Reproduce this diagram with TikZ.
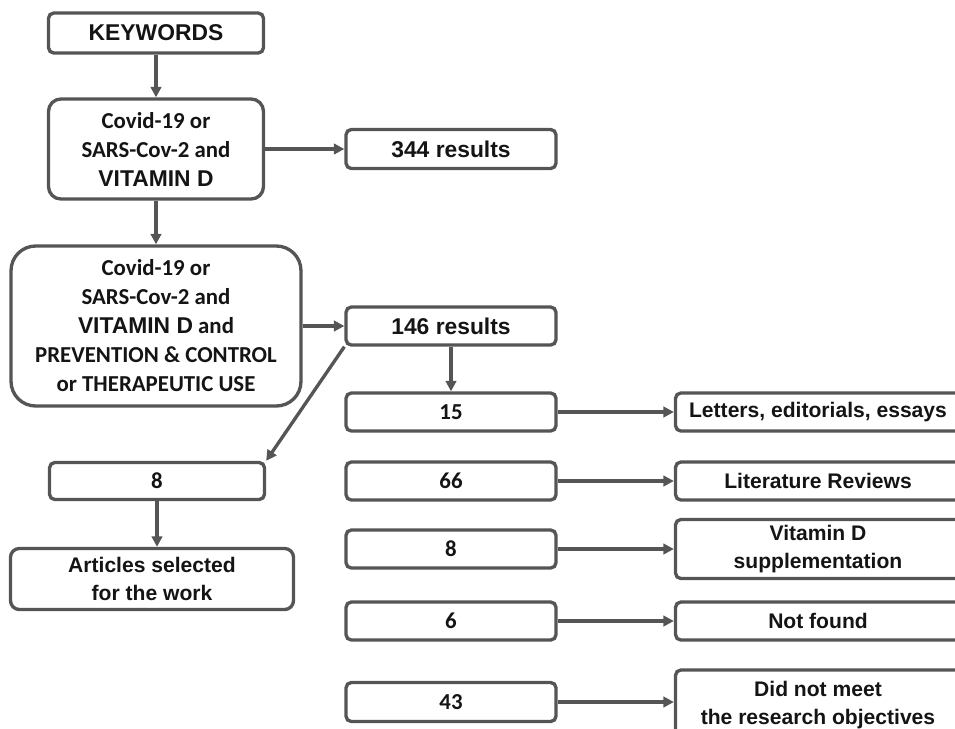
\documentclass[tikz,border=0pt]{standalone}
\usepackage{fontspec}
\setmainfont{Liberation Sans}
\newfontfamily\calibri{Carlito}
\usetikzlibrary{arrows.meta}
\definecolor{linegray}{RGB}{85,85,85}
\definecolor{textblack}{RGB}{20,20,20}

\begin{document}
\begin{tikzpicture}[x=0.02cm,y=-0.02cm,
    box/.style={rectangle,draw=linegray,line width=1.9pt,rounded corners=3pt,align=center,
      text=textblack,inner sep=0pt,font=\bfseries\fontsize{12}{16}\selectfont},
    bigbox/.style={box,font=\bfseries\fontsize{13}{16}\selectfont},
    calbox/.style={box,font=\calibri\bfseries\fontsize{13}{16.5}\selectfont},
    arr/.style={draw=linegray,line width=1.9pt,-{Triangle[length=6pt,width=6pt]}}]
  \useasboundingbox (0,0) rectangle (955,728);
  \clip (0,0) rectangle (955,728);
  % search column
  \node[bigbox,minimum width=4.3cm,minimum height=0.8cm] (K) at (156,33) {KEYWORDS};
  \node[calbox,rounded corners=7pt,minimum width=4.3cm,minimum height=2.0cm] (Q1) at (156,149)
    {Covid-19 or\\SARS-Cov-2 and\\{\normalfont\bfseries\fontsize{13}{16}\selectfont VITAMIN D}};
  \node[calbox,rounded corners=14pt,minimum width=5.8cm,minimum height=3.2cm] (Q2) at (156,326)
    {Covid-19 or\\SARS-Cov-2 and\\{\normalfont\bfseries\fontsize{13}{16}\selectfont VITAMIN D} and\\PREVENTION \& CONTROL\\or THERAPEUTIC USE};
  \node[bigbox,minimum width=4.2cm,minimum height=0.78cm] (R1) at (451,149) {344 results};
  \node[bigbox,minimum width=4.2cm,minimum height=0.76cm] (R2) at (451,326) {146 results};
  % selected
  \node[calbox,minimum width=4.3cm,minimum height=0.74cm] (S8) at (157,481) {8};
  \node[box,rounded corners=5pt,minimum width=5.66cm,minimum height=1.22cm] (A) at (152,579) {Articles selected\\for the work};
  % excluded
  \node[calbox,minimum width=4.2cm,minimum height=0.76cm] (N1) at (451,412) {15};
  \node[calbox,minimum width=4.2cm,minimum height=0.76cm] (N2) at (451,481) {66};
  \node[calbox,minimum width=4.2cm,minimum height=0.76cm] (N3) at (451,549) {8};
  \node[calbox,minimum width=4.2cm,minimum height=0.76cm] (N4) at (451,621) {6};
  \node[calbox,minimum width=4.2cm,minimum height=0.78cm] (N5) at (451,702) {43};
  \node[box,minimum width=5.7cm,minimum height=0.76cm] (E1) at (818,412) {Letters, editorials, essays};
  \node[box,minimum width=5.7cm,minimum height=0.76cm] (E2) at (818,481) {Literature Reviews};
  \node[box,minimum width=5.7cm,minimum height=1.18cm] (E3) at (818,549) {Vitamin D\\supplementation};
  \node[box,minimum width=5.7cm,minimum height=0.76cm] (E4) at (818,621) {Not found};
  \node[box,minimum width=5.7cm,minimum height=1.4cm] (E5) at (818,705) {Did not meet\\the research objectives};

  \draw[arr] (K) -- (Q1);
  \draw[arr] (Q1) -- (Q2);
  \draw[arr] (Q1) -- (R1);
  \draw[arr] (Q2) -- (R2);
  \draw[arr] (R2) -- (N1);
  \draw[arr] (R2.south west) -- (S8.north east);
  \draw[arr] (S8) -- (S8 |- A.north);
  \draw[arr] (N1) -- (E1);
  \draw[arr] (N2) -- (E2);
  \draw[arr] (N3) -- (E3);
  \draw[arr] (N4) -- (E4);
  \draw[arr] (N5.east) -- (N5 -| E5.west);
\end{tikzpicture}
\end{document}
